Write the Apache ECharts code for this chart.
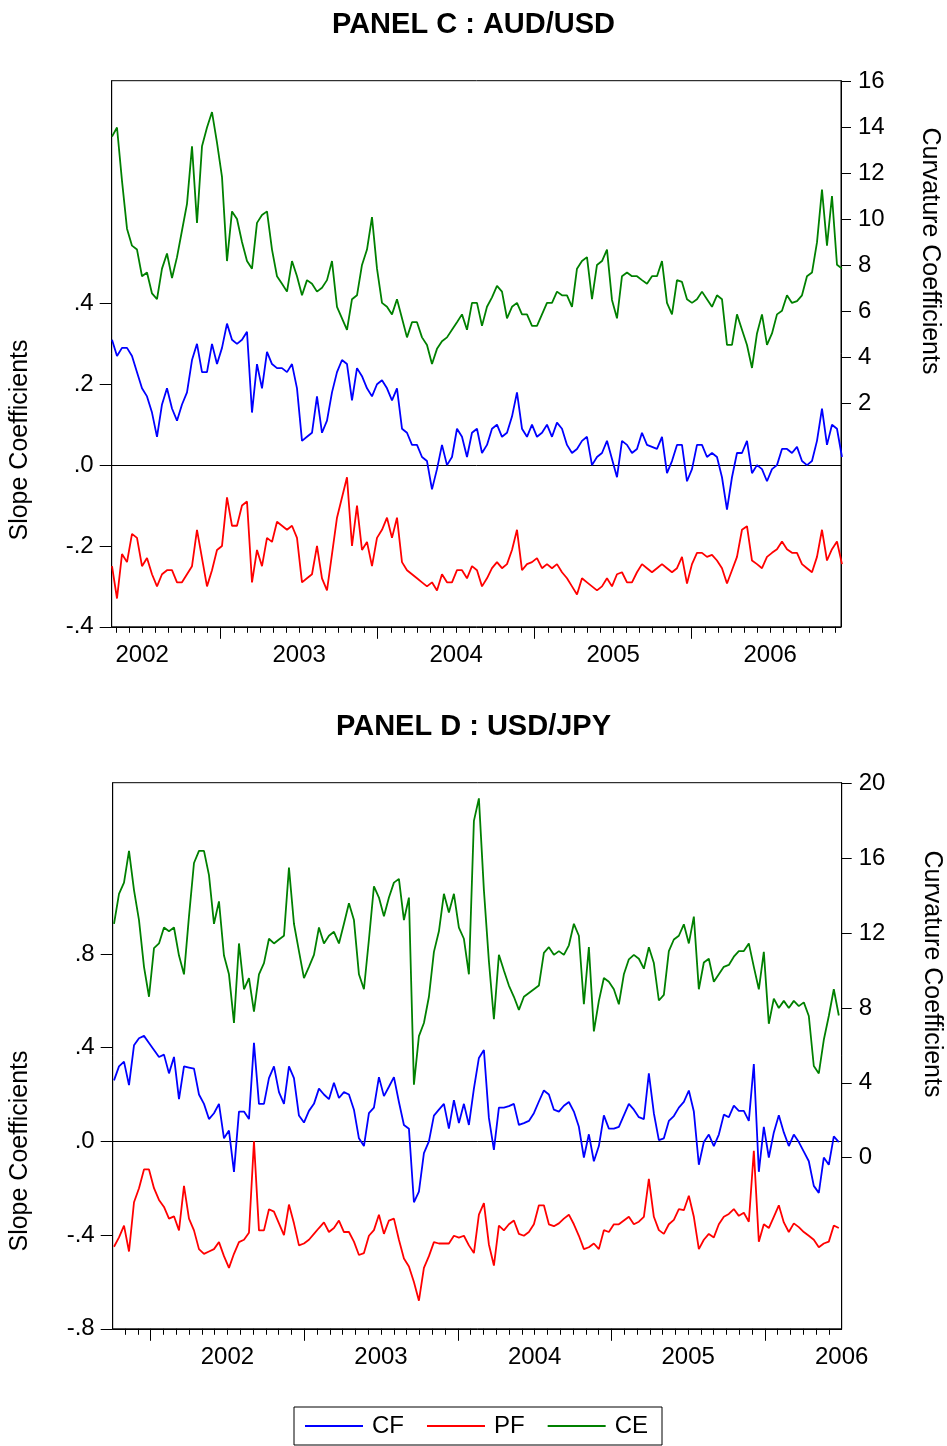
<!DOCTYPE html>
<html><head><meta charset="utf-8">
<script src="https://cdn.jsdelivr.net/npm/echarts@6/dist/echarts.min.js"></script>
<style>html,body{margin:0;padding:0;background:#fff}#chart{width:947px;height:1446px}</style>
</head><body><div id="chart"></div>
<script>
// ---------- DATA ----------
const yearLabels = ['2002', '2003', '2004', '2005', '2006'];
const slopeTicksC = [-0.4, -0.2, 0, 0.2, 0.4];
const curvTicksC = [2, 4, 6, 8, 10, 12, 14, 16];
const slopeTicksD = [-0.8, -0.4, 0, 0.4, 0.8];
const curvTicksD = [0, 4, 8, 12, 16, 20];

// sampling of the series (decimal years): start and step between samples
const audStart = 2002.3076, audStep = 0.031847;
const jpyStart = 2001.7611, jpyStep = 0.032552;

// PANEL C : AUD/USD
const audCF = [0.31,0.27,0.29,0.29,0.27,0.23,0.19,0.17,0.13,0.07,0.15,0.19,0.14,0.11,0.15,0.18,0.26,0.30,0.23,0.23,0.30,0.25,0.29,0.35,0.31,0.30,0.31,0.33,0.13,0.25,0.19,0.28,0.25,0.24,0.24,0.23,0.25,
  0.19,0.06,0.07,0.08,0.17,0.08,0.11,0.18,0.23,0.26,0.25,0.16,0.24,0.22,0.19,0.17,0.20,0.21,0.19,0.16,0.19,0.09,0.08,0.05,0.05,0.02,0.01,-0.06,-0.01,0.05,0.00,0.02,0.09,0.07,0.02,0.08,0.09,
  0.03,0.05,0.09,0.10,0.07,0.08,0.12,0.18,0.09,0.07,0.10,0.07,0.08,0.10,0.07,0.105,0.09,0.05,0.03,0.04,0.06,0.07,0.00,0.02,0.03,0.06,0.015,-0.03,0.06,0.05,0.03,0.04,0.08,0.05,0.045,0.04,0.07,
  -0.02,0.01,0.05,0.05,-0.04,-0.01,0.05,0.05,0.02,0.03,0.02,-0.03,-0.11,-0.03,0.03,0.03,0.06,-0.02,0.00,-0.01,-0.04,-0.01,0.00,0.04,0.04,0.03,0.045,0.01,0.00,0.01,0.06,0.14,0.05,0.10,0.09,0.02];
const audPF = [-0.25,-0.33,-0.22,-0.24,-0.17,-0.18,-0.25,-0.23,-0.27,-0.30,-0.27,-0.26,-0.26,-0.29,-0.29,-0.27,-0.25,-0.16,-0.23,-0.30,-0.26,-0.21,-0.20,-0.08,-0.15,-0.15,-0.10,-0.09,-0.29,-0.21,-0.25,-0.18,-0.19,-0.14,-0.15,-0.16,-0.15,
  -0.18,-0.29,-0.28,-0.27,-0.20,-0.28,-0.31,-0.22,-0.13,-0.08,-0.03,-0.20,-0.10,-0.21,-0.19,-0.25,-0.18,-0.16,-0.13,-0.18,-0.13,-0.24,-0.26,-0.27,-0.28,-0.29,-0.30,-0.29,-0.31,-0.27,-0.29,-0.29,-0.26,-0.26,-0.28,-0.25,-0.26,
  -0.30,-0.28,-0.255,-0.24,-0.255,-0.245,-0.21,-0.16,-0.26,-0.245,-0.24,-0.23,-0.255,-0.245,-0.255,-0.245,-0.265,-0.28,-0.30,-0.32,-0.28,-0.29,-0.30,-0.31,-0.30,-0.28,-0.30,-0.27,-0.265,-0.29,-0.29,-0.265,-0.245,-0.255,-0.265,-0.255,-0.245,
  -0.255,-0.265,-0.255,-0.227,-0.293,-0.245,-0.217,-0.217,-0.227,-0.222,-0.236,-0.255,-0.293,-0.26,-0.227,-0.16,-0.151,-0.236,-0.245,-0.255,-0.227,-0.217,-0.208,-0.189,-0.208,-0.217,-0.217,-0.245,-0.255,-0.265,-0.227,-0.16,-0.236,-0.208,-0.189,-0.245];
const audCE = [13.6,14.0,11.68,9.6,8.86,8.69,7.53,7.69,6.78,6.53,7.86,8.52,7.45,8.36,9.52,10.68,13.18,9.85,13.18,14.0,14.67,13.34,11.85,8.19,10.35,10.02,9.02,8.19,7.86,9.85,10.19,10.35,8.69,7.53,7.2,6.86,8.19,
  7.53,6.7,7.36,7.2,6.86,7.03,7.36,8.19,6.2,5.7,5.2,6.53,6.7,8.02,8.69,10.1,7.86,6.37,6.2,5.87,6.53,5.7,4.87,5.53,5.53,4.87,4.54,3.71,4.37,4.7,4.87,5.2,5.53,5.87,5.2,6.37,6.37,
  5.37,6.2,6.61,7.11,6.86,5.7,6.2,6.37,5.87,5.87,5.37,5.37,5.87,6.37,6.37,6.86,6.7,6.7,6.2,7.86,8.19,8.36,6.53,8.02,8.19,8.69,6.5,5.7,7.53,7.69,7.53,7.53,7.36,7.2,7.53,7.53,8.19,
  6.37,5.87,7.36,7.28,6.53,6.37,6.53,6.86,6.53,6.2,6.7,6.53,4.54,4.54,5.87,5.2,4.54,3.54,5.04,5.87,4.54,5.04,5.87,6.03,6.7,6.37,6.45,6.7,7.53,7.69,9.0,11.3,8.86,11.02,8.03,7.86];

// PANEL D : USD/JPY
const jpyCF = [0.26,0.32,0.34,0.24,0.41,0.44,0.45,0.42,0.39,0.36,0.37,0.29,0.36,0.18,0.32,0.315,0.31,0.20,0.16,0.095,0.12,0.16,0.013,0.046,-0.13,0.127,0.127,0.095,0.42,0.16,0.16,0.27,0.32,0.21,0.16,0.32,0.27,
  0.11,0.08,0.13,0.16,0.225,0.2,0.18,0.25,0.185,0.21,0.2,0.135,0.013,-0.02,0.12,0.144,0.274,0.193,0.233,0.274,0.168,0.07,0.054,-0.26,-0.215,-0.05,0.0,0.11,0.135,0.16,0.054,0.176,0.078,0.16,0.07,0.225,0.356,
  0.39,0.1,-0.036,0.144,0.144,0.15,0.16,0.07,0.078,0.087,0.12,0.17,0.217,0.2,0.135,0.127,0.152,0.168,0.127,0.062,-0.069,0.03,-0.085,-0.02,0.111,0.054,0.054,0.062,0.111,0.16,0.135,0.103,0.095,0.29,0.12,0.005,0.013,
  0.087,0.108,0.144,0.168,0.217,0.127,-0.1,-0.003,0.029,-0.02,0.029,0.114,0.103,0.152,0.13,0.13,0.087,0.33,-0.13,0.062,-0.069,0.038,0.111,0.038,-0.02,0.029,-0.003,-0.044,-0.085,-0.19,-0.22,-0.069,-0.1,0.021,-0.003];
const jpyPF = [-0.45,-0.41,-0.36,-0.47,-0.26,-0.20,-0.12,-0.12,-0.20,-0.25,-0.28,-0.33,-0.32,-0.38,-0.19,-0.33,-0.38,-0.46,-0.48,-0.47,-0.46,-0.43,-0.49,-0.54,-0.48,-0.43,-0.42,-0.39,0.0,-0.38,-0.38,-0.29,-0.30,-0.35,-0.40,-0.27,-0.35,
  -0.444,-0.436,-0.42,-0.395,-0.37,-0.346,-0.387,-0.37,-0.338,-0.387,-0.387,-0.428,-0.485,-0.477,-0.403,-0.379,-0.313,-0.395,-0.338,-0.33,-0.42,-0.50,-0.534,-0.6,-0.68,-0.54,-0.49,-0.43,-0.436,-0.436,-0.436,-0.403,-0.411,-0.403,-0.444,-0.477,-0.313,
  -0.264,-0.44,-0.53,-0.36,-0.38,-0.354,-0.338,-0.395,-0.403,-0.387,-0.354,-0.273,-0.273,-0.354,-0.362,-0.35,-0.33,-0.313,-0.354,-0.403,-0.46,-0.452,-0.436,-0.46,-0.379,-0.387,-0.354,-0.354,-0.338,-0.322,-0.354,-0.343,-0.322,-0.16,-0.322,-0.379,-0.395,
  -0.354,-0.335,-0.289,-0.294,-0.232,-0.322,-0.46,-0.42,-0.395,-0.41,-0.354,-0.322,-0.31,-0.289,-0.318,-0.305,-0.343,-0.04,-0.428,-0.354,-0.37,-0.322,-0.273,-0.346,-0.387,-0.35,-0.366,-0.387,-0.403,-0.42,-0.452,-0.436,-0.428,-0.359,-0.37];
const jpyCE = [12.5,14.1,14.7,16.4,14.3,12.7,10.2,8.6,11.2,11.45,12.3,12.1,12.3,10.8,9.8,12.9,15.75,16.4,16.4,15.1,12.5,13.7,10.8,9.8,7.2,11.45,9.0,9.6,7.8,9.8,10.4,11.7,11.45,11.66,11.86,15.5,12.5,
  11.04,9.6,10.2,10.84,12.3,11.45,11.86,12.07,11.45,12.5,13.6,12.7,9.8,9.0,11.66,14.5,13.9,12.9,13.9,14.7,14.9,12.7,13.9,3.9,6.5,7.2,8.6,11.0,12.1,14.1,13.1,14.1,12.3,11.7,9.8,18.0,19.2,
  14.3,10.5,7.4,10.84,10.0,9.2,8.6,7.9,8.6,8.8,9.0,9.2,10.95,11.25,10.84,11.04,10.84,11.35,12.5,11.86,8.2,11.25,6.75,8.38,9.6,9.4,9.0,8.2,9.8,10.6,10.84,10.63,10.1,11.25,10.4,8.4,8.7,
  11.04,11.66,11.86,12.47,11.45,12.88,9.0,10.43,10.63,9.4,9.8,10.2,10.3,10.74,11.04,11.04,11.45,10.2,9.0,11.0,7.16,8.5,8.0,8.38,8.0,8.38,8.1,8.3,7.57,4.9,4.5,6.3,7.57,9.0,7.6];

// ---------- CHART ----------
const FONT = '"Liberation Sans", Arial, sans-serif';
const BLUE = '#0000ff', RED = '#ff0000', GREEN = '#008000';
const chart = echarts.init(document.getElementById('chart'), null, {renderer: 'canvas'});

function pairs(vals, start, step) { return vals.map((v, i) => [start + i * step, v]); }
function slopeFmt(v) { const s = Math.abs(v).toFixed(1).replace(/^0/, ''); return (v < -1e-9 ? '-' : '') + s; }
function monthTicks(min, max) {
  const out = [];
  for (let y = 2001; y <= 2007; y++) for (let m = 1; m < 12; m++) { const v = y + m / 12; if (v > min && v < max) out.push(v); }
  return out;
}
function yearTicks(min, max) { const out = []; for (let y = 2001; y <= 2007; y++) if (y > min && y < max) out.push(y); return out; }

const C = {min: 2002.3057, max: 2006.951, grid: {left: 111.7, top: 80.7, width: 729.3, height: 546.1}};
const D = {min: 2001.7526, max: 2006.5, grid: {left: 112.7, top: 782.7, width: 729, height: 546.1}};

function xAxes(p, gi) {
  const labelVals = yearLabels.map(y => +y + 0.5).filter(v => v >= p.min && v <= p.max + 1e-9);
  return [
    {type: 'value', gridIndex: gi, min: p.min, max: p.max, position: 'bottom',
      axisLine: {show: true, onZero: false, lineStyle: {color: '#000', width: 1}},
      axisTick: {show: true, customValues: monthTicks(p.min, p.max), length: 6, lineStyle: {color: '#000'}},
      axisLabel: {show: true, customValues: labelVals, formatter: v => String(Math.floor(v + 1e-6)), fontSize: 24, color: '#000', fontFamily: FONT, margin: 17, hideOverlap: false},
      splitLine: {show: false}},
    {type: 'value', gridIndex: gi, min: p.min, max: p.max, position: 'bottom',
      axisLine: {show: false, onZero: false},
      axisTick: {show: true, customValues: yearTicks(p.min, p.max), length: 12, lineStyle: {color: '#000'}},
      axisLabel: {show: false}, splitLine: {show: false}}
  ];
}
function yAxis(gi, pos, min, max, ticks, fmt, tickLen, margin) {
  return {type: 'value', gridIndex: gi, position: pos, min: min, max: max,
    axisLine: {show: true, onZero: false, lineStyle: {color: '#000', width: 1}},
    axisTick: {show: true, customValues: ticks, length: tickLen, lineStyle: {color: '#000'}},
    axisLabel: {show: true, customValues: ticks, formatter: fmt, fontSize: 24, color: '#000', fontFamily: FONT, margin: margin},
    splitLine: {show: false}};
}
function line(name, data, xi, yi, color, zero) {
  const s = {name: name, type: 'line', xAxisIndex: xi, yAxisIndex: yi, data: data, showSymbol: false, symbol: 'none',
    lineStyle: {color: color, width: 1.8}, itemStyle: {color: color}, z: 3, animation: false};
  if (zero) s.markLine = {silent: true, symbol: ['none', 'none'], label: {show: false},
    lineStyle: {color: '#000', width: 1, type: 'solid'}, data: [{yAxis: 0}], z: 2};
  return s;
}
function vtext(txt, x, y, rot) {
  return {type: 'text', x: x, y: y, rotation: rot, silent: true,
    style: {text: txt, font: '25px ' + FONT, fill: '#000', align: 'center', verticalAlign: 'middle', textAlign: 'center', textVerticalAlign: 'middle'}};
}

const option = {
  animation: false,
  backgroundColor: '#fff',
  textStyle: {fontFamily: FONT},
  title: [
    {text: 'PANEL C : AUD/USD', left: 'center', top: 5, textStyle: {fontSize: 29, fontWeight: 'bold', color: '#000', fontFamily: FONT}},
    {text: 'PANEL D : USD/JPY', left: 'center', top: 707, textStyle: {fontSize: 29, fontWeight: 'bold', color: '#000', fontFamily: FONT}}
  ],
  grid: [
    Object.assign({show: true, borderColor: '#000', borderWidth: 1, backgroundColor: 'transparent', containLabel: false}, C.grid),
    Object.assign({show: true, borderColor: '#000', borderWidth: 1, backgroundColor: 'transparent', containLabel: false}, D.grid)
  ],
  xAxis: xAxes(C, 0).concat(xAxes(D, 1)),
  yAxis: [
    yAxis(0, 'left', -0.4, 0.951, slopeTicksC, slopeFmt, 12, 18),
    yAxis(0, 'right', -7.72, 16.035, curvTicksC, v => String(Math.round(v)), 10, 17),
    yAxis(1, 'left', -0.8, 1.5305, slopeTicksD, slopeFmt, 12, 18),
    yAxis(1, 'right', -9.145, 20.04, curvTicksD, v => String(Math.round(v)), 10, 17)
  ],
  legend: {data: ['CF', 'PF', 'CE'], left: 294, top: 1407, orient: 'horizontal', icon: 'rect',
    itemWidth: 58, itemHeight: 2, itemGap: 23, padding: [7, 14, 7, 11], borderColor: '#000', borderWidth: 1,
    backgroundColor: '#fff', selectedMode: false,
    textStyle: {fontSize: 24, color: '#000', fontFamily: FONT, padding: [0, 0, 0, 4]}},
  graphic: [
    vtext('Slope Coefficients', 20, 440, Math.PI / 2),
    vtext('Curvature Coefficients', 930, 251, -Math.PI / 2),
    vtext('Slope Coefficients', 20, 1151, Math.PI / 2),
    vtext('Curvature Coefficients', 932, 974, -Math.PI / 2)
  ],
  series: [
    line('CF', pairs(audCF, audStart, audStep), 0, 0, BLUE, true),
    line('PF', pairs(audPF, audStart, audStep), 0, 0, RED, false),
    line('CE', pairs(audCE, audStart, audStep), 0, 1, GREEN, false),
    line('CF', pairs(jpyCF, jpyStart, jpyStep), 2, 2, BLUE, true),
    line('PF', pairs(jpyPF, jpyStart, jpyStep), 2, 2, RED, false),
    line('CE', pairs(jpyCE, jpyStart, jpyStep), 2, 3, GREEN, false)
  ]
};
chart.setOption(option);
</script></body></html>
